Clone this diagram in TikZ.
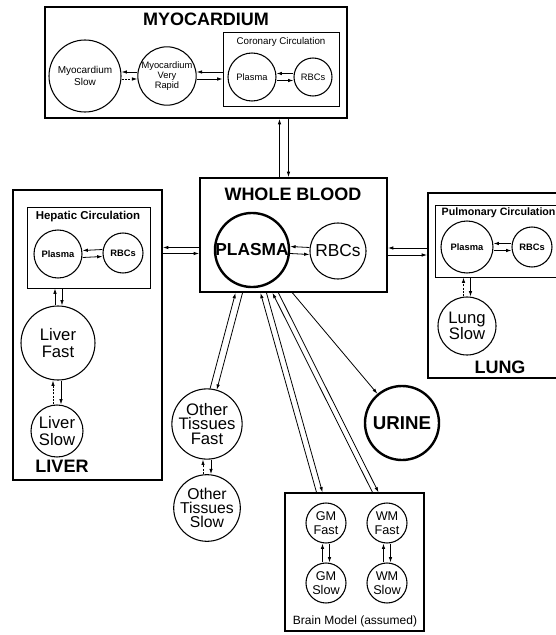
\documentclass[tikz,border=0pt]{standalone}
\usepackage{fontspec}
\setmainfont{Liberation Sans}
\usetikzlibrary{arrows.meta,positioning,fit,calc}

\begin{document}
\begin{tikzpicture}[x=0.75pt,y=-0.75pt,
  organ/.style={draw,line width=1.4pt,inner sep=0pt},
  circbox/.style={draw,line width=0.7pt,inner sep=0pt},
  comp/.style={circle,draw,line width=0.8pt,inner sep=0pt,
               minimum size=1.5*#1pt,align=center},
  comp/.default=20,
  orgtitle/.style={font=\fontsize{13.5}{14}\selectfont\bfseries},
  bigtxt/.style={font=\fontsize{12.5}{12.5}\selectfont},
  midtxt/.style={font=\fontsize{9.5}{10.5}\selectfont},
  tinytxt/.style={font=\fontsize{7}{7.5}\selectfont},
  tinybold/.style={font=\fontsize{7}{7.5}\selectfont\bfseries},
  arr/.style={-{Latex[length=4pt,width=2.6pt]},line width=0.6pt},
  darr/.style={arr,dash pattern=on 1.5pt off 1pt}
]
  \useasboundingbox (0,0) rectangle (556,635);
  \clip (0,0) rectangle (556,635);

  % Myocardium
  \node[organ,fit={(45,7) (347,118)}] (myo) {};
  \node[orgtitle] (myotitle) at (206,19) {MYOCARDIUM};
  \node[comp=36,font=\fontsize{7.5}{8.5}\selectfont] (myoslow) at (85,76) {Myocardium\\Slow};
  \node[comp=28,tinytxt] (myovr) at (167,76) {Myocardium\\Very\\Rapid};
  \node[circbox,fit={(223,32) (339,106)}] (cor) {};
  \node[font=\fontsize{7.3}{8}\selectfont] (cortitle) at (281,42) {Coronary Circulation};
  \node[comp=24,tinytxt] (corpl) at (252,77) {Plasma};
  \node[comp=19,tinytxt] (corrbc) at (313,77) {RBCs};

  % Whole blood
  \node[organ,fit={(200,178) (387,292)}] (wb) {};
  \node[orgtitle] (wbtitle) at (293,194) {WHOLE BLOOD};
  \node[comp=37,line width=1.8pt,font=\fontsize{13}{14}\selectfont\bfseries] (wbpl) at (252,250) {PLASMA};
  \node[comp=28,font=\fontsize{13}{14}\selectfont] (wbrbc) at (338,251) {RBCs};

  % Liver
  \node[organ,fit={(13,190) (162,480)}] (liver) {};
  \node[circbox,fit={(27,207) (150,288)}] (hep) {};
  \node[font=\fontsize{8.6}{9}\selectfont\bfseries] (heptitle) at (88,217) {Hepatic Circulation};
  \node[comp=24,tinybold] (heppl) at (58,254) {Plasma};
  \node[comp=20,tinybold] (heprbc) at (123,253) {RBCs};
  \node[comp=37,bigtxt] (livfast) at (58,343) {Liver\\Fast};
  \node[comp=26,bigtxt] (livslow) at (57,431) {Liver\\Slow};
  \node[orgtitle] (livtitle) at (62,466) {LIVER};

  % Lung (box runs off the right edge)
  \node[organ,fit={(428,193) (590,378)}] (lung) {};
  \node[circbox,fit={(435,205) (590,277)}] (pul) {};
  \node[font=\fontsize{8}{9}\selectfont\bfseries,anchor=west] (pultitle) at (437,213) {Pulmonary Circulation};
  \node[comp=26,tinybold] (pulpl) at (467,247) {Plasma};
  \node[comp=20,tinybold] (pulrbc) at (532,247) {RBCs};
  \node[comp=29,bigtxt] (lungslow) at (467,326) {Lung\\Slow};
  \node[orgtitle] (lungtitle) at (500,367) {LUNG};

  % Other tissues and urine
  \node[comp=35,font=\fontsize{12.5}{11}\selectfont] (otf) at (207,424) {Other\\Tissues\\Fast};
  \node[comp=28,font=\fontsize{11.8}{10.5}\selectfont] (ots) at (207,508) {Other\\Tissues\\Slow};
  \node[comp=37,line width=1.8pt,font=\fontsize{14}{15}\selectfont\bfseries] (urine) at (402,423) {URINE};

  % Brain
  \node[organ,line width=1pt,fit={(285,493) (424,631)}] (brain) {};
  \node[comp=20,midtxt] (gmf) at (326,523) {GM\\Fast};
  \node[comp=20,midtxt] (gms) at (326,583) {GM\\Slow};
  \node[comp=20,midtxt] (wmf) at (387,523) {WM\\Fast};
  \node[comp=20,midtxt] (wms) at (387,583) {WM\\Slow};
  \node[font=\fontsize{9}{10}\selectfont] (braintitle) at (355,621) {Brain Model (assumed)};

  % Exchange inside compartments
  \draw[arr] ($(myovr.west)+(0,-4)$) -- ($(myoslow.east)+(0,-4)$);
  \draw[darr] ($(myoslow.east)+(0,3)$) -- ($(myovr.west)+(0,3)$);
  \draw[arr] ($(cor.west |- myovr)+(0,-4)$) -- ($(myovr.east)+(0,-4)$);
  \draw[arr] ($(myovr.east)+(0,3)$) -- ($(cor.west |- myovr)+(0,3)$);
  \draw[arr] ($(corrbc.west)+(0,-3.5)$) -- ($(corpl.east)+(0,-3.5)$);
  \draw[arr] ($(corpl.east)+(0,3.5)$) -- ($(corrbc.west)+(0,3.5)$);
  \draw[arr] ($(wbrbc.west)+(0,-3.5)$) -- ($(wbpl.east)+(0,-3.5)$);
  \draw[arr] ($(wbpl.east)+(0,3.5)$) -- ($(wbrbc.west)+(0,3.5)$);
  \draw[arr] ($(heprbc.west)+(0,-3.5)$) -- ($(heppl.east)+(0,-3.5)$);
  \draw[arr] ($(heppl.east)+(0,3.5)$) -- ($(heprbc.west)+(0,3.5)$);
  \draw[arr] ($(pulrbc.west)+(0,-3.5)$) -- ($(pulpl.east)+(0,-3.5)$);
  \draw[arr] ($(pulpl.east)+(0,3.5)$) -- ($(pulrbc.west)+(0,3.5)$);
  \draw[arr] ($(livfast.north)+(-3,0)$) -- ($(hep.south -| livfast.north)+(-3,0)$);
  \draw[arr] ($(hep.south -| livfast.north)+(4,0)$) -- ($(livfast.north)+(4,0)$);
  \draw[darr] ($(livslow.north -| livfast.south)+(-5,0)$) -- ($(livfast.south)+(-5,0)$);
  \draw[arr] ($(livfast.south)+(3,0)$) -- ($(livslow.north -| livfast.south)+(3,0)$);
  \draw[darr] ($(lungslow.north)+(-3.5,0)$) -- ($(pul.south -| lungslow.north)+(-3.5,0)$);
  \draw[arr] ($(pul.south -| lungslow.north)+(3.5,0)$) -- ($(lungslow.north)+(3.5,0)$);
  \draw[darr] ($(ots.north)+(-4,0)$) -- ($(otf.south)+(-4,0)$);
  \draw[arr] ($(otf.south)+(4,0)$) -- ($(ots.north)+(4,0)$);
  \draw[arr] ($(gms.north)+(-3.5,0)$) -- ($(gmf.south)+(-3.5,0)$);
  \draw[arr] ($(gmf.south)+(3.5,0)$) -- ($(gms.north)+(3.5,0)$);
  \draw[arr] ($(wms.north)+(-3.5,0)$) -- ($(wmf.south)+(-3.5,0)$);
  \draw[arr] ($(wmf.south)+(3.5,0)$) -- ($(wms.north)+(3.5,0)$);

  % Whole blood to organs
  \draw[arr] ($(wb.north)+(-14,0)$) -- ($(myo.south -| wb.north)+(-14,0)$);
  \draw[arr] ($(myo.south -| wb.north)+(-5,0)$) -- ($(wb.north)+(-5,0)$);
  \draw[arr] ($(wb.west |- wbpl)+(0,-2.5)$) -- ($(liver.east |- wbpl)+(0,-2.5)$);
  \draw[arr] ($(liver.east |- wbpl)+(0,3.5)$) -- ($(wb.west |- wbpl)+(0,3.5)$);
  \draw[arr] ($(lung.west |- wbrbc)+(0,-3)$) -- ($(wb.east |- wbrbc)+(0,-3)$);
  \draw[arr] ($(wb.east |- wbrbc)+(0,4)$) -- ($(lung.west |- wbrbc)+(0,4)$);
  \draw[arr] (otf.85) -- ($(wb.south)+(-58,0)$);
  \draw[arr] ($(wb.south)+(-51,0)$) -- (otf.74);
  \draw[arr] ($(brain.north)+(-38,0)$) -- ($(wb.south)+(-33,0)$);
  \draw[arr] ($(wb.south)+(-27,0)$) -- ($(brain.north)+(-32,0)$);
  \draw[arr] ($(brain.north)+(18,0)$) -- ($(wb.south)+(-21,0)$);
  \draw[arr] ($(wb.south)+(-15,0)$) -- ($(brain.north)+(24,0)$);
  \draw[arr] ($(wb.south)+(-1,0)$) -- (urine);
\end{tikzpicture}
\end{document}
